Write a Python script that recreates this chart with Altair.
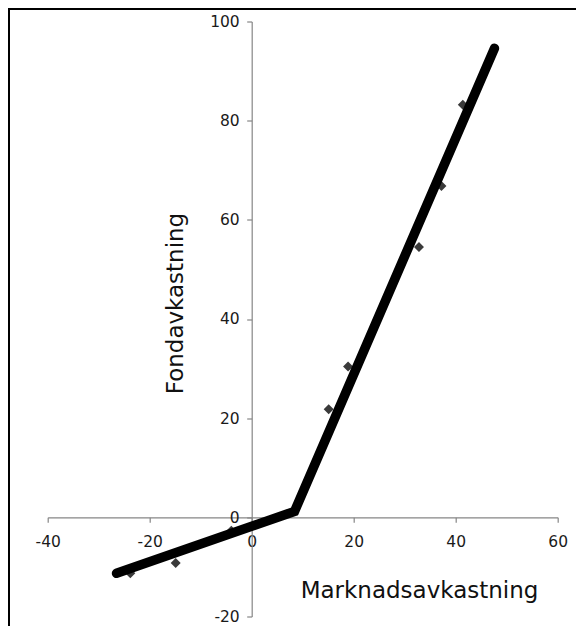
import altair as alt
import pandas as pd

# observed points (market return, fund return)
pts_x = [-23.8, -14.9, -4.0, 15.1, 18.9, 32.8, 37.2, 41.4]
pts_y = [-11.3, -9.2, -2.7, 21.8, 30.4, 54.5, 66.8, 83.2]

# fitted piecewise line
line_x = [-26.5, 8.4, 47.6]
line_y = [-11.3, 1.2, 94.6]

x_ticks = [-40, -20, 0, 20, 40, 60]
y_ticks = [-20, 0, 20, 40, 60, 80, 100]

pts = pd.DataFrame({"x": pts_x, "y": pts_y})
ln = pd.DataFrame({"x": line_x, "y": line_y, "o": list(range(len(line_x)))})

FONT = "DejaVu Sans"
AXC = "#868686"
LBL = "#1a1a1a"

xscale = alt.Scale(domain=[-40, 60], nice=False, zero=False)
yscale = alt.Scale(domain=[-20, 100], nice=False, zero=False)

xaxis = alt.Axis(
    values=x_ticks, orient="bottom", offset=-99.2, grid=False,
    domainColor=AXC, tickColor=AXC, tickSize=5, domainWidth=1.2, tickWidth=1.2,
    labelFont=FONT, labelFontSize=15.5, labelColor=LBL, labelPadding=12.5,
    labelOverlap=False, labelFlush=False, labelExpr="toString(datum.value)",
    title="Marknadsavkastning", titleFont=FONT, titleFontSize=23, titleFontWeight="normal",
    titleColor="#111111", titleX=371.3, titleY=80.4, titleAlign="center",
    titleBaseline="alphabetic", titleAngle=0,
)
yaxis = alt.Axis(
    values=y_ticks, orient="left", offset=-204, grid=False,
    domainColor=AXC, tickColor=AXC, tickSize=5, domainWidth=1.2, tickWidth=1.2,
    labelFont=FONT, labelFontSize=15.5, labelColor=LBL, labelPadding=7.5,
    labelOverlap=False, labelFlush=False, labelExpr="toString(datum.value)",
    title="Fondavkastning", titleFont=FONT, titleFontSize=23, titleFontWeight="normal",
    titleColor="#111111", titleX=-68.7, titleY=281.5, titleAlign="center",
    titleBaseline="alphabetic", titleAngle=270,
)

points = alt.Chart(pts).mark_point(
    shape="diamond", filled=True, size=100, color="#3a3a3a", opacity=1
).encode(
    x=alt.X("x:Q", scale=xscale, axis=xaxis),
    y=alt.Y("y:Q", scale=yscale, axis=yaxis),
)

line = alt.Chart(ln).mark_line(
    color="black", strokeWidth=9.5, strokeCap="round", strokeJoin="miter"
).encode(
    x=alt.X("x:Q", scale=xscale),
    y=alt.Y("y:Q", scale=yscale),
    order="o:Q",
)

border = alt.Chart(pd.DataFrame({"a": [0]})).mark_rect(
    fillOpacity=0, stroke="black", strokeWidth=2, clip=False
).encode(
    x=alt.value(-38.7), x2=alt.value(531), y=alt.value(-12.5), y2=alt.value(700)
)

chart = alt.layer(border, points, line).properties(
    width=510, height=595,
    background="white",
    autosize=alt.AutoSizeParams(type="none"),
    padding={"left": 39.7, "top": 13.5, "right": 18, "bottom": 9},
).configure_view(strokeWidth=0, stroke="transparent")

chart.save("out.html", embed_options={"renderer": "svg", "actions": False})
